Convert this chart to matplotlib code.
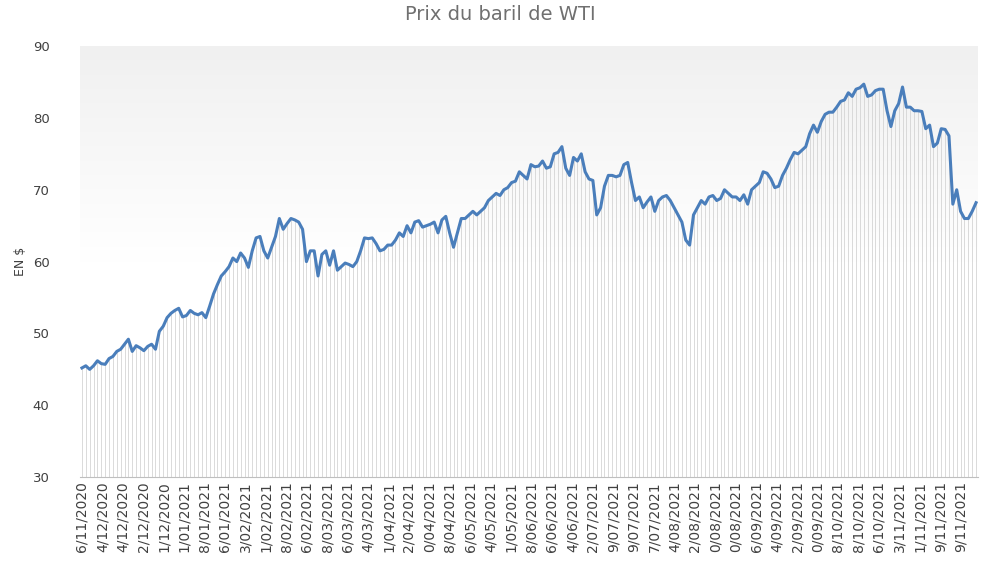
import numpy as np
import matplotlib.pyplot as plt
from matplotlib.colors import LinearSegmentedColormap

# daily WTI close (USD)
prix = [45.2, 45.5, 45.0, 45.5, 46.2, 45.8, 45.7, 46.5, 46.8, 47.5, 47.8, 48.5, 49.2, 47.5, 48.3,
        48.0, 47.6, 48.2, 48.5, 47.8, 50.3, 51.0, 52.2, 52.8, 53.2, 53.5, 52.3, 52.5, 53.2, 52.8,
        52.6, 52.9, 52.2, 53.8, 55.5, 56.8, 58.0, 58.6, 59.3, 60.5, 60.0, 61.2, 60.5, 59.2, 61.5,
        63.3, 63.5, 61.5, 60.5, 62.0, 63.5, 66.0, 64.5, 65.3, 66.0, 65.8, 65.5, 64.5, 60.0, 61.5,
        61.5, 58.0, 61.0, 61.5, 59.5, 61.5, 58.8, 59.3, 59.8, 59.6, 59.3, 60.0, 61.5, 63.3, 63.2,
        63.3, 62.5, 61.5, 61.7, 62.3, 62.3, 63.0, 64.0, 63.5, 65.0, 64.0, 65.5, 65.7, 64.8, 65.0,
        65.2, 65.5, 64.0, 65.8, 66.3, 64.0, 62.0, 64.0, 66.0, 66.0, 66.5, 67.0, 66.5, 67.0, 67.5,
        68.5, 69.0, 69.5, 69.2, 70.0, 70.3, 71.0, 71.2, 72.5, 72.0, 71.5, 73.5, 73.2, 73.3, 74.0,
        73.0, 73.2, 75.0, 75.2, 76.0, 73.0, 72.0, 74.5, 74.0, 75.0, 72.5, 71.5, 71.3, 66.5, 67.5,
        70.5, 72.0, 72.0, 71.8, 72.0, 73.5, 73.8, 71.0, 68.5, 69.0, 67.5, 68.3, 69.0, 67.0, 68.5,
        69.0, 69.2, 68.5, 67.5, 66.5, 65.5, 63.0, 62.3, 66.5, 67.5, 68.5, 68.0, 69.0, 69.2, 68.5,
        68.8, 70.0, 69.5, 69.0, 69.0, 68.5, 69.3, 68.0, 70.0, 70.5, 71.0, 72.5, 72.3, 71.5, 70.3,
        70.5, 72.0, 73.0, 74.2, 75.2, 75.0, 75.5, 76.0, 77.8, 79.0, 78.0, 79.5, 80.5, 80.8, 80.8,
        81.5, 82.3, 82.5, 83.5, 83.0, 84.0, 84.2, 84.7, 83.0, 83.2, 83.8, 84.0, 84.0, 81.0, 78.8,
        81.0, 82.0, 84.3, 81.5, 81.5, 81.0, 81.0, 80.9, 78.5, 79.0, 76.0, 76.5, 78.5, 78.4, 77.5,
        68.0, 70.0, 67.0, 66.0, 66.0, 67.0, 68.2]

# tick labels as they appear (cut at the bottom of the image)
etiquettes = ["6/11/2020", "4/12/2020", "4/12/2020", "2/12/2020", "1/12/2020", "1/01/2021",
              "8/01/2021", "6/01/2021", "3/02/2021", "1/02/2021", "8/02/2021", "6/02/2021",
              "8/03/2021", "6/03/2021", "4/03/2021", "1/04/2021", "2/04/2021", "0/04/2021",
              "8/04/2021", "6/05/2021", "4/05/2021", "1/05/2021", "8/06/2021", "6/06/2021",
              "4/06/2021", "2/07/2021", "9/07/2021", "9/07/2021", "7/07/2021", "4/08/2021",
              "2/08/2021", "0/08/2021", "0/08/2021", "6/09/2021", "4/09/2021", "2/09/2021",
              "0/09/2021", "8/10/2021", "8/10/2021", "6/10/2021", "3/11/2021", "1/11/2021",
              "9/11/2021", "9/11/2021"]

x = np.arange(len(prix))
fig = plt.figure(figsize=(10, 5.62), dpi=100)
ax = fig.add_axes([0.08, 0.151, 0.898, 0.767])

# background: light gray at top fading to white toward the bottom
cmap = LinearSegmentedColormap.from_list('fond', ['#ffffff', '#ffffff', '#f0f0f0'])
grad = np.linspace(1, 0, 256).reshape(-1, 1)
ax.imshow(grad, cmap=cmap, vmin=0, vmax=1, aspect='auto',
          extent=[-0.5, len(prix) - 0.5, 30, 90], zorder=0)

ax.vlines(x, 30, prix, color='#d4d4d4', lw=0.6, zorder=1)
ax.plot(x, prix, color='#4a7ebb', lw=2.2, zorder=2)

ax.set_xlim(-0.5, len(prix) - 0.5)
ax.set_ylim(30, 90)
ax.set_yticks(range(30, 91, 10))
ticks = np.linspace(0, len(prix) - 5, len(etiquettes))
ax.set_xticks(ticks)
ax.set_xticklabels(etiquettes, rotation=90, fontsize=10, color='#404040')
ax.tick_params(axis='y', labelsize=9.5, colors='#404040', length=0, pad=22)
ax.tick_params(axis='x', length=0, pad=3)
for s in ['top', 'right', 'left']:
    ax.spines[s].set_visible(False)
ax.spines['bottom'].set_color('#bfbfbf')
ax.set_ylabel('EN $', fontsize=9, color='#404040')
fig.text(0.5, 0.975, 'Prix du baril de WTI', ha='center', va='center',
         fontsize=14, color='#707070')

fig.savefig('out.png', dpi=100)
